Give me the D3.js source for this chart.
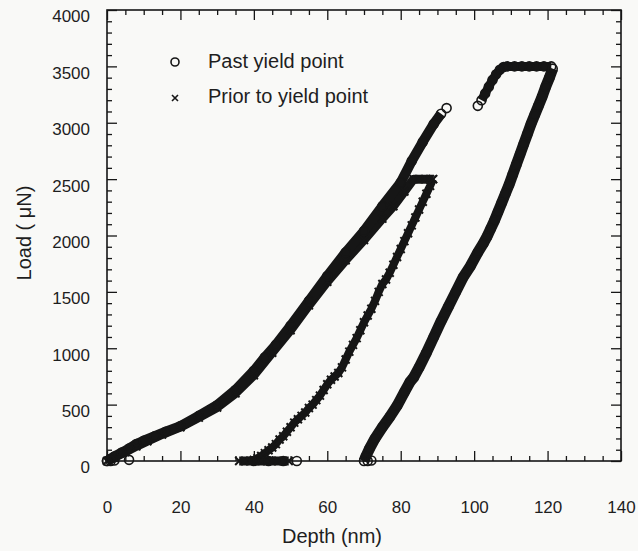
<!DOCTYPE html>
<html>
<head>
<meta charset="utf-8">
<script src="https://cdn.jsdelivr.net/npm/d3@7"></script>
<style>
  html, body { margin: 0; padding: 0; background: #f9f9f7; }
  text { font-family: "Liberation Sans", Arial, Helvetica, sans-serif; fill: #1e1e1e; }
</style>
</head>
<body>
<div id="canvas"></div>
<script>
// tick values
const depthTicks = [0, 20, 40, 60, 80, 100, 120, 140];
const loadTicks = [0, 500, 1000, 1500, 2000, 2500, 3000, 3500, 4000];
const depthMinor = d3.range(0, 141, 5).filter(v => v % 20 != 0);
const loadMinor = d3.range(0, 4001, 100).filter(v => v % 500 != 0);

// legend labels
const seriesNames = ["Past yield point", "Prior to yield point"];

// past yield point (circles): [depth nm, load uN]
const pastLoading = [[0,0],[1,20],[2,40],[4,75],[6,110],[8,150],[10,180],[13,220],[16,260],[20,310],[25,400],[30,495],[35,630],[40,800],[43,920],[46,1030],[50,1200],[55,1420],[60,1640],[65,1850],[70,2040],[75,2260],[80,2470],[83,2660],[86,2830],[89,2990],[91,3080],[92.5,3130]];
const pastReload = [[101,3150],[102,3200],[103,3260],[104,3320],[105,3380],[106,3430],[107,3470],[108,3495],[109,3500],[111,3500],[113,3500],[115,3500],[117,3500],[119,3500],[121,3500]];
const pastUnloading = [[121.4,3480],[120.5,3400],[119.5,3320],[118.5,3230],[117.5,3150],[116.5,3070],[115.5,2990],[114.5,2900],[113.5,2810],[112.5,2720],[111.5,2630],[110.5,2540],[109.5,2450],[108.5,2370],[107.5,2290],[106.5,2210],[105.5,2130],[104.5,2060],[103.5,1990],[102.5,1930],[101,1850],[99,1730],[97,1630],[95,1500],[93,1370],[91,1240],[89,1100],[87,960],[85,830],[83.5,740],[82.5,700],[81,610],[79,490],[77,390],[75,300],[73,200],[71.5,110],[70.5,40],[70,0]];
const pastZero = [[0,0],[1,0],[2,5],[6,10],[40,0],[44,0],[48,0],[51.7,0],[71,0],[72,5]];

// prior to yield point (crosses)
const priorLoading = [[0,0],[2,30],[5,80],[8,130],[11,175],[15,235],[20,300],[25,385],[30,475],[35,600],[40,760],[45,960],[50,1160],[55,1380],[60,1590],[65,1780],[70,1960],[75,2150],[78,2260],[81,2390],[83.5,2500],[85,2500],[86.5,2500],[88,2500],[88.8,2500]];
const priorUnloading = [[88.8,2500],[88,2440],[87,2370],[86,2300],[85,2230],[84,2160],[83,2090],[82,2020],[81,1950],[80,1880],[79,1810],[78,1740],[77,1670],[76,1610],[75,1570],[74,1500],[73,1420],[72,1350],[71,1290],[70,1230],[69,1160],[68,1090],[67,1030],[66,970],[65,900],[64,830],[63,780],[62,750],[61,720],[60,680],[59,630],[58,580],[57,540],[56,500],[55,470],[54,430],[53,400],[52,370],[51,340],[50,300],[49,260],[48,220],[47,190],[46,150],[45,120],[44,95],[43,70],[42,45],[41,25],[40,10],[39,0]];
const priorZero = [[36,0],[37.5,0],[39,0],[40.5,0],[42,0],[43.5,0],[45,0],[46.5,0],[48,0],[49.5,0]];

// svg canvas
const width = 638, height = 551;
const plot = {left: 107, right: 621, top: 10, bottom: 461};
const ink = "#161616";

const svg = d3.select("#canvas")
  .append("svg")
  .attr("width", width)
  .attr("height", height);

svg.append("rect")
  .attr("width", width)
  .attr("height", height)
  .attr("fill", "#f9f9f7");

// scales
const x = d3.scaleLinear().domain([0, 140]).range([plot.left, plot.right]);
const y = d3.scaleLinear().domain([0, 4000]).range([plot.bottom, plot.top]);
const fmt = d3.format("d");

// axes, ticks pointing inward
function styleAxis(g) {
  g.select(".domain").remove();
  g.selectAll(".tick line").attr("stroke", ink).attr("stroke-width", 1.3);
  g.selectAll(".tick text").attr("font-size", 17).attr("fill", "#1e1e1e")
    .attr("font-family", "'Liberation Sans', Arial, Helvetica, sans-serif");
}

svg.append("g")
  .attr("transform", "translate(0," + plot.bottom + ")")
  .call(d3.axisBottom(x).tickValues(depthTicks).tickFormat(fmt).tickSize(-10).tickSizeOuter(0).tickPadding(40))
  .call(styleAxis);
svg.append("g")
  .attr("transform", "translate(0," + plot.bottom + ")")
  .call(d3.axisBottom(x).tickValues(depthMinor).tickSize(-5).tickSizeOuter(0).tickFormat(""))
  .call(styleAxis);
svg.append("g")
  .attr("transform", "translate(0," + plot.top + ")")
  .call(d3.axisTop(x).tickValues(depthTicks).tickSize(-10).tickSizeOuter(0).tickFormat(""))
  .call(styleAxis);
svg.append("g")
  .attr("transform", "translate(0," + plot.top + ")")
  .call(d3.axisTop(x).tickValues(depthMinor).tickSize(-5).tickSizeOuter(0).tickFormat(""))
  .call(styleAxis);

const yAxis = svg.append("g")
  .attr("transform", "translate(" + plot.left + ",0)")
  .call(d3.axisLeft(y).tickValues(loadTicks).tickFormat(fmt).tickSize(-10).tickSizeOuter(0).tickPadding(17))
  .call(styleAxis);
yAxis.selectAll(".tick text").attr("dy", "0.7em");
svg.append("g")
  .attr("transform", "translate(" + plot.left + ",0)")
  .call(d3.axisLeft(y).tickValues(loadMinor).tickSize(-5).tickSizeOuter(0).tickFormat(""))
  .call(styleAxis);
svg.append("g")
  .attr("transform", "translate(" + plot.right + ",0)")
  .call(d3.axisRight(y).tickValues(loadTicks).tickSize(-10).tickSizeOuter(0).tickFormat(""))
  .call(styleAxis);
svg.append("g")
  .attr("transform", "translate(" + plot.right + ",0)")
  .call(d3.axisRight(y).tickValues(loadMinor).tickSize(-5).tickSizeOuter(0).tickFormat(""))
  .call(styleAxis);

// frame
svg.append("rect")
  .attr("x", plot.left)
  .attr("y", plot.top)
  .attr("width", plot.right - plot.left)
  .attr("height", plot.bottom - plot.top)
  .attr("fill", "none")
  .attr("stroke", ink)
  .attr("stroke-width", 1.6);

// axis titles
svg.append("text")
  .attr("x", 332)
  .attr("y", 543)
  .attr("text-anchor", "middle")
  .attr("font-size", 20)
  .text("Depth (nm)");

svg.append("text")
  .attr("transform", "translate(31,233) rotate(-90)")
  .attr("text-anchor", "middle")
  .attr("font-size", 20)
  .text("Load ( μN)");

// dense bands behind the markers
const line = d3.line().x(d => x(d[0])).y(d => y(d[1]));

function band(data, w) {
  svg.append("path")
    .datum(data)
    .attr("d", line)
    .attr("fill", "none")
    .attr("stroke", ink)
    .attr("stroke-width", w)
    .attr("stroke-linejoin", "round")
    .attr("stroke-linecap", "butt");
}

band(priorLoading, 9);
band(priorUnloading, 8);
band(priorZero, 9);
band(pastLoading.slice(0, -1), 10);
band(pastReload.slice(1), 9);
band(pastUnloading, 11);

// markers
function circles(data) {
  svg.append("g").selectAll("circle")
    .data(data)
    .join("circle")
    .attr("cx", d => x(d[0]))
    .attr("cy", d => y(d[1]))
    .attr("r", 4.5)
    .attr("fill", "none")
    .attr("stroke", ink)
    .attr("stroke-width", 1.6);
}

function crosses(data) {
  const s = 4;
  svg.append("g").selectAll("path")
    .data(data)
    .join("path")
    .attr("d", d => {
      const cx = x(d[0]), cy = y(d[1]);
      return "M" + (cx - s) + "," + (cy - s) + "L" + (cx + s) + "," + (cy + s) +
             "M" + (cx - s) + "," + (cy + s) + "L" + (cx + s) + "," + (cy - s);
    })
    .attr("stroke", ink)
    .attr("stroke-width", 2);
}

crosses(priorLoading);
crosses(priorUnloading);
crosses(priorZero);
circles(pastLoading);
circles(pastReload);
circles(pastUnloading);
circles(pastZero);

// legend
const legend = svg.append("g");
legend.append("circle")
  .attr("cx", 175).attr("cy", 62).attr("r", 4)
  .attr("fill", "none").attr("stroke", ink).attr("stroke-width", 1.6);
legend.append("path")
  .attr("d", "M172,95L178,101M172,101L178,95")
  .attr("stroke", ink).attr("stroke-width", 1.6);
legend.selectAll(".legendLabel")
  .data(seriesNames)
  .join("text")
  .attr("class", "legendLabel")
  .attr("x", 208)
  .attr("y", (d, i) => 68 + i * 35)
  .attr("font-size", 20)
  .text(d => d);
</script>
</body>
</html>
